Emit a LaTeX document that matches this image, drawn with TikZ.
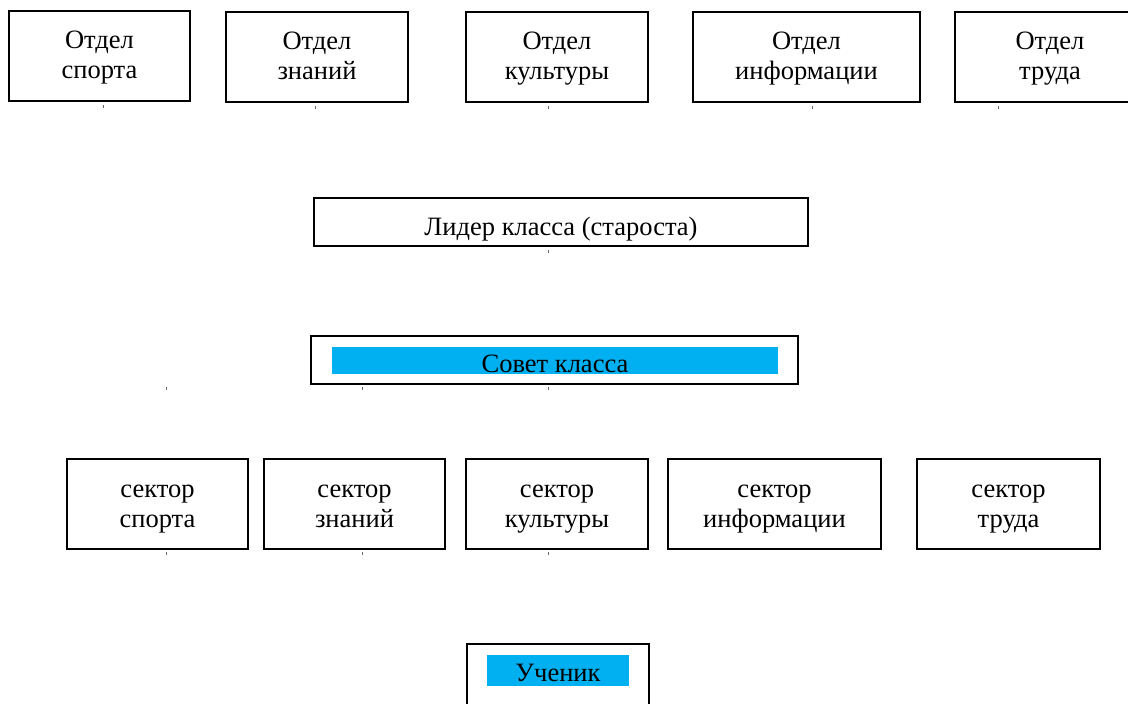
\documentclass[tikz,border=0pt]{standalone}
\usepackage{fontspec}
\setmainfont{Liberation Serif}
\definecolor{hl}{HTML}{00B0F0}
\begin{document}
\begin{tikzpicture}[x=1pt,y=-1pt,
  box/.style={draw=black,line width=1.8pt,inner sep=0pt},
  thick box/.style={box,line width=2.6pt},
  lbl/.style={inner sep=0pt,align=center,font=\fontsize{26.5}{30}\selectfont},
  hlbox/.style={fill=hl,inner sep=0pt},
  tick/.style={draw=black!60,line width=0.9pt}]
\clip (0,0) rectangle (1128,704);
\useasboundingbox (0,0) rectangle (1128,704);
% top row
\node[box,minimum width=181pt,minimum height=90pt] (d1) at (99.5,56) {};
\node[box,minimum width=182pt,minimum height=90pt] (d2) at (317,57) {};
\node[box,minimum width=182pt,minimum height=90pt] (d3) at (557,57) {};
\node[box,minimum width=227pt,minimum height=90pt] (d4) at (806.5,57) {};
\node[box,minimum width=190pt,minimum height=90pt] (d5) at (1050,57) {};
\node[lbl,yshift=-1.5pt] (d1l) at (d1) {\strut Отдел\\спорта\strut};
\node[lbl,yshift=-1.5pt] (d2l) at (d2) {\strut Отдел\\знаний\strut};
\node[lbl,yshift=-1.5pt] (d3l) at (d3.center) {\strut Отдел\\культуры\strut};
\node[lbl,yshift=-1.5pt] (d4l) at (d4.center) {\strut Отдел\\информации\strut};
\node[lbl,yshift=-1.5pt] (d5l) at (1050,57) {\strut Отдел\\труда\strut};
% leader
\node[box,minimum width=494pt,minimum height=48pt] (lead) at (561,222) {};
\node[lbl,yshift=-7pt] (leadl) at (lead) {\strut Лидер класса (староста)};
% council
\node[thick box,minimum width=487pt,minimum height=48pt] (sov) at (554.5,360) {};
\node[hlbox,minimum width=446pt,minimum height=27pt] (sovt) at (555,360.5) {};
\node[lbl,yshift=-5.5pt] (sovl) at (sovt) {\strut Совет класса};
% sectors
\node[box,minimum width=181pt,minimum height=90pt] (s1) at (157.5,504) {};
\node[box,minimum width=181pt,minimum height=90pt] (s2) at (354.5,504) {};
\node[box,minimum width=182pt,minimum height=90pt] (s3) at (557,504) {};
\node[box,minimum width=213pt,minimum height=90pt] (s4) at (774.5,504) {};
\node[box,minimum width=183pt,minimum height=90pt] (s5) at (1008.5,504) {};
\node[lbl,yshift=-2pt] (s1l) at (s1) {\strut сектор\\спорта\strut};
\node[lbl,yshift=-2pt] (s2l) at (s2) {\strut сектор\\знаний\strut};
\node[lbl,yshift=-2pt] (s3l) at (s3) {\strut сектор\\культуры\strut};
\node[lbl,yshift=-2pt] (s4l) at (s4) {\strut сектор\\информации\strut};
\node[lbl,yshift=-2pt] (s5l) at (s5) {\strut сектор\\труда\strut};
% pupil
\node[thick box,minimum width=182pt,minimum height=80pt] (uch) at (558,684) {};
\node[hlbox,minimum width=142pt,minimum height=31pt] (ucht) at (558,670.5) {};
\node[lbl,yshift=-4.5pt] (uchl) at (ucht) {\strut Ученик};
% stubs
\foreach \n/\x/\y in {t1/103/105,t2/315/106,t3/548/106,t4/812/106,t5/998/106,
  t6/548/250,t7/166/387,t8/362/387,t9/548/387,t10/166/552,t11/362/552,t12/548/552}{
  \coordinate (\n) at (\x,\y);
  \draw[tick] (\n) -- ++(0,3);
}
\end{tikzpicture}
\end{document}
